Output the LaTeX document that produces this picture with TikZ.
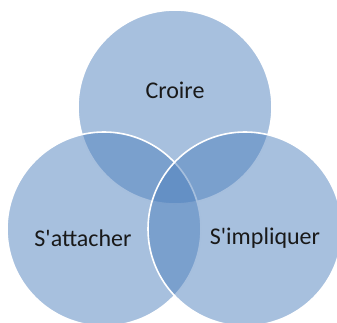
\documentclass[tikz,border=0pt]{standalone}
\usepackage{fontspec}
\setmainfont{Carlito}
\usepackage{tikz}
\definecolor{vennblue}{RGB}{79,129,189}
\definecolor{venntext}{RGB}{25,25,25}

\begin{document}
\begin{tikzpicture}[x=1pt, y=1pt,
	venn/.style={circle, minimum size=194pt, inner sep=0pt, fill=vennblue, fill opacity=.5, draw=white, draw opacity=1, line width=1.6pt},
	word/.style={text=venntext, font=\fontsize{24}{28}\selectfont}]
	\useasboundingbox (0,0) rectangle (337,323);
	\node[venn] (croire) at (175,216) {};
	\node[venn] (attacher) at (104,94) {};
	\node[venn] (impliquer) at (245,94) {};
	\node[word] (t1) at (175,233) {Croire};
	\node[word] (t2) at (83,85) {S\textquotesingle attacher};
	\node[word] (t3) at (265,85) {S\textquotesingle impliquer};
\end{tikzpicture}
\end{document}
